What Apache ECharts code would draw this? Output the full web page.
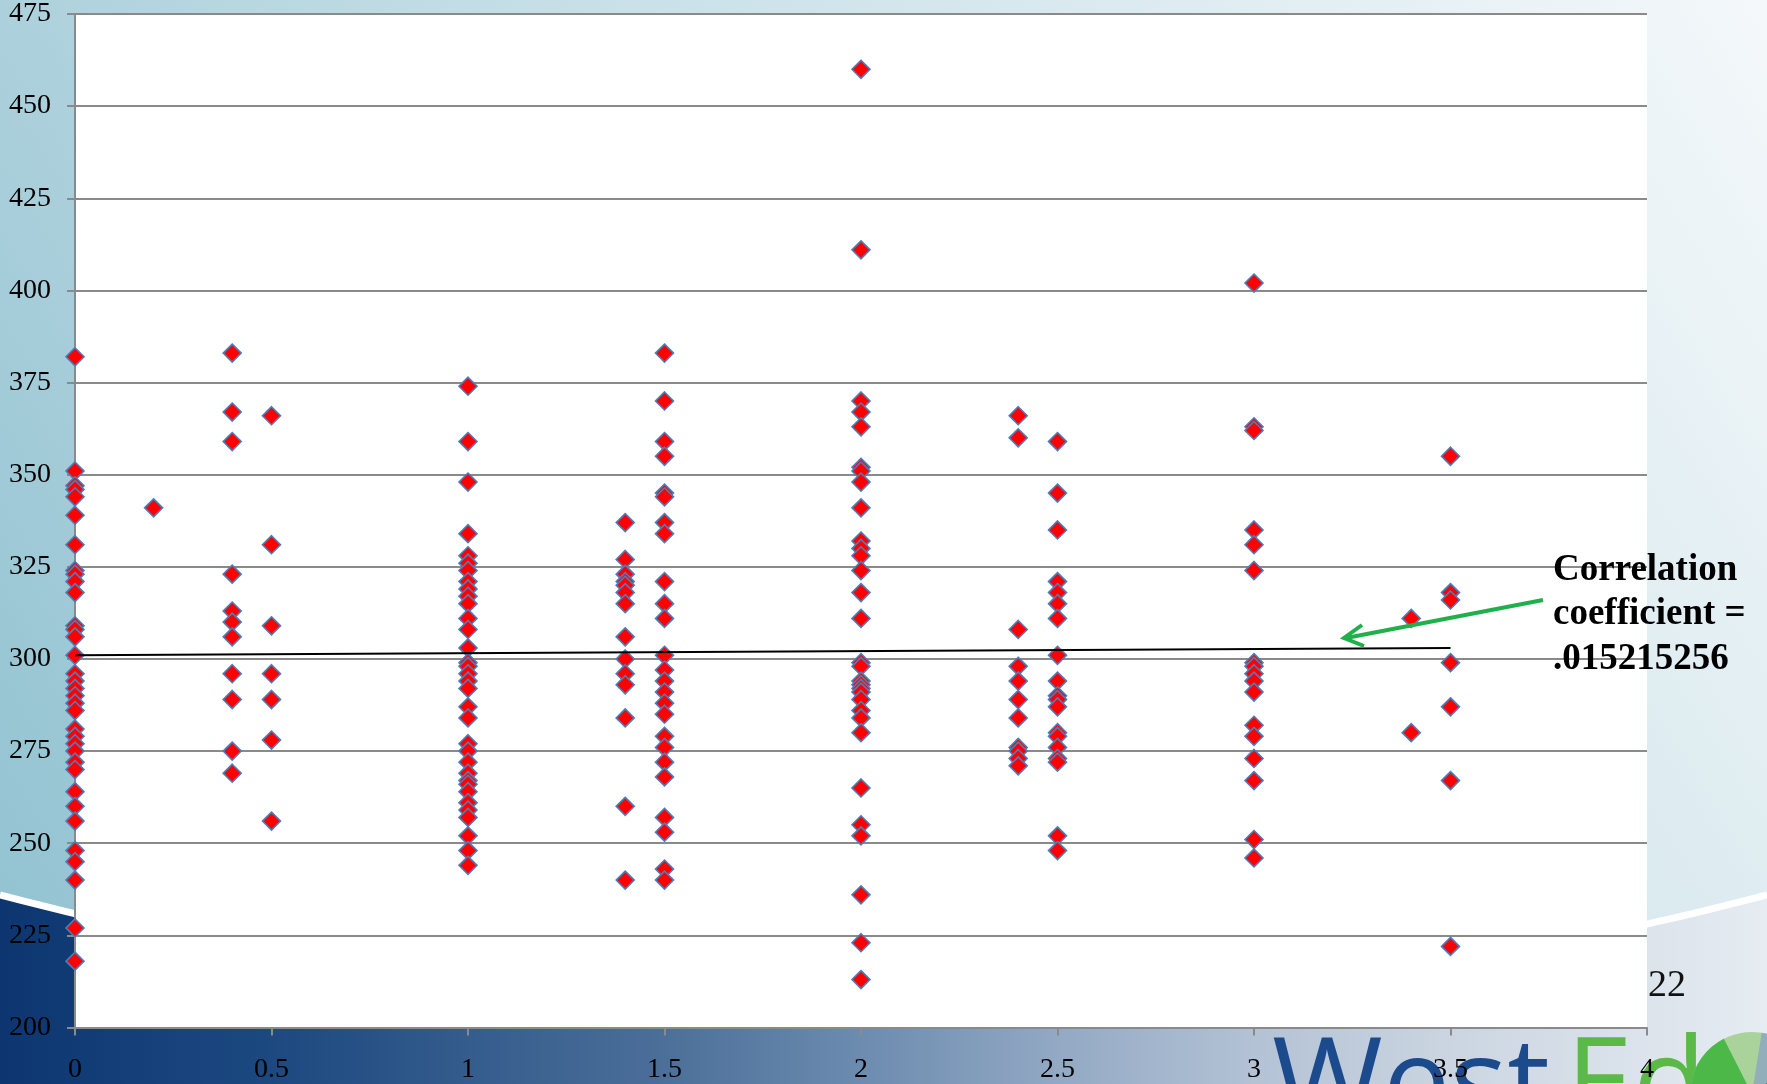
<!DOCTYPE html>
<html>
<head>
<meta charset="utf-8">
<script src="https://cdn.jsdelivr.net/npm/echarts@6/dist/echarts.min.js"></script>
<style>
html,body{margin:0;padding:0;overflow:hidden;background:#fff}
#chart{width:1767px;height:1084px}
</style>
</head>
<body>
<div id="chart"></div>
<script>
// ---- data ----
const xGroups = [0, 0.2, 0.4, 0.5, 1, 1.4, 1.5, 2, 2.4, 2.5, 3, 3.4, 3.5];
const scoresAt0_0 = [382, 351, 347, 346, 344, 339, 331, 324, 323, 321, 318, 309, 308, 306, 301, 296, 294, 292, 290, 288, 286, 281, 279, 277, 275, 272, 270, 264, 260, 256, 248, 245, 240, 227, 218];
const scoresAt0_2 = [341];
const scoresAt0_4 = [383, 367, 359, 323, 313, 310, 306, 296, 289, 275, 269];
const scoresAt0_5 = [366, 331, 309, 296, 289, 278, 256];
const scoresAt1_0 = [374, 359, 348, 334, 328, 326, 324, 321, 319, 317, 315, 311, 308, 303, 299, 298, 296, 294, 292, 287, 284, 277, 275, 272, 269, 267, 266, 264, 261, 259, 257, 252, 248, 244];
const scoresAt1_4 = [337, 327, 323, 321, 320, 318, 315, 306, 300, 296, 293, 284, 260, 240];
const scoresAt1_5 = [383, 370, 359, 355, 345, 344, 337, 334, 321, 315, 311, 301, 297, 294, 291, 288, 285, 279, 276, 272, 268, 257, 253, 243, 240];
const scoresAt2_0 = [460, 411, 370, 367, 363, 352, 351, 348, 341, 332, 330, 328, 324, 318, 311, 299, 298, 294, 293, 292, 291, 289, 286, 284, 280, 265, 255, 252, 236, 223, 213];
const scoresAt2_4 = [366, 360, 308, 298, 294, 289, 284, 276, 275, 273, 271];
const scoresAt2_5 = [359, 345, 335, 321, 318, 315, 311, 301, 294, 290, 289, 287, 280, 279, 276, 273, 272, 252, 248];
const scoresAt3_0 = [402, 363, 362, 335, 331, 324, 299, 298, 296, 294, 291, 282, 279, 273, 267, 251, 246];
const scoresAt3_4 = [311, 280];
const scoresAt3_5 = [355, 318, 316, 299, 287, 267, 222];
const trendX = [0, 3.5];
const trendY = [301.0, 303.0];
const noteLines = ['Correlation', 'coefficient =', '.015215256'];
const pageNumber = '22';
const logoWords = ['West', 'Ed'];

const yGroups = [scoresAt0_0, scoresAt0_2, scoresAt0_4, scoresAt0_5, scoresAt1_0, scoresAt1_4,
  scoresAt1_5, scoresAt2_0, scoresAt2_4, scoresAt2_5, scoresAt3_0, scoresAt3_4, scoresAt3_5];
const points = [];
xGroups.forEach((x, i) => yGroups[i].forEach(v => points.push([x, v])));
const trend = trendX.map((x, i) => [x, trendY[i]]);

// ---- decorative slide background ----
const W = 1767, H = 1084;
function swoosh(n) {
  const p0 = [0, 895], p1 = [883, 1125], p2 = [W, 895];
  const pts = [];
  for (let i = 0; i <= n; i++) {
    const t = i / n, a = (1 - t) * (1 - t), b = 2 * t * (1 - t), c = t * t;
    pts.push([a * p0[0] + b * p1[0] + c * p2[0], a * p0[1] + b * p1[1] + c * p2[1]]);
  }
  return pts;
}
const curve = swoosh(80);
const lowerRegion = curve.concat([[W, H], [0, H]]);

const serif = "'Liberation Serif','Times New Roman',serif";
const gx = 1752, gy = 1094, gr = 62;

const chart = echarts.init(document.getElementById('chart'), null, {renderer: 'canvas'});
chart.setOption({
  animation: false,
  backgroundColor: 'transparent',
  grid: {
    left: 75, top: 14, width: 1572, height: 1013.5,
    show: true, backgroundColor: '#ffffff', borderWidth: 0,
    containLabel: false, outerBoundsMode: 'none'
  },
  xAxis: {
    type: 'value', min: 0, max: 4, interval: 0.5,
    axisLine: {show: true, lineStyle: {color: '#8a8a8a', width: 2}},
    axisTick: {show: true, inside: false, length: 8, lineStyle: {color: '#8a8a8a', width: 2}},
    axisLabel: {color: '#000', fontFamily: serif, fontSize: 28, margin: 28},
    splitLine: {show: false}
  },
  yAxis: {
    type: 'value', min: 200, max: 475, interval: 25,
    axisLine: {show: true, lineStyle: {color: '#8a8a8a', width: 2}},
    axisTick: {show: true, inside: false, length: 8, lineStyle: {color: '#8a8a8a', width: 2}},
    axisLabel: {color: '#000', fontFamily: serif, fontSize: 28, margin: 24},
    splitLine: {show: true, lineStyle: {color: '#8a8a8a', width: 2}}
  },
  series: [
    {
      type: 'scatter', data: points, symbol: 'diamond', symbolSize: 18,
      itemStyle: {color: '#ff0000', borderColor: '#4a7ebb', borderWidth: 1.6, opacity: 1},
      z: 3
    },
    {
      type: 'line', data: trend, symbol: 'none', silent: true,
      lineStyle: {color: '#000', width: 2}, z: 4
    }
  ],
  graphic: [
    {type: 'rect', z: -10, silent: true, shape: {x: 0, y: 0, width: W, height: H},
      style: {fill: {type: 'linear', x: 1, y: 0, x2: 0, y2: 1,
        colorStops: [{offset: 0, color: '#f4f8fa'}, {offset: 0.5, color: '#c6dfe7'}, {offset: 1, color: '#8ec0cf'}]}}},
    {type: 'polygon', z: -9, silent: true, shape: {points: lowerRegion},
      style: {fill: {type: 'linear', x: 0, y: 0, x2: 1, y2: 0,
        colorStops: [{offset: 0, color: '#0d3670'}, {offset: 0.15, color: '#1c4880'}, {offset: 0.37, color: '#4a6e98'},
          {offset: 0.49, color: '#6d8cb0'}, {offset: 0.6, color: '#93a9c4'}, {offset: 0.71, color: '#b3c2d5'},
          {offset: 0.82, color: '#cbd5e1'}, {offset: 1, color: '#e6ecf2'}]}}},
    {type: 'polyline', z: -8, silent: true, shape: {points: curve},
      style: {stroke: '#ffffff', lineWidth: 7, fill: null}},
    // WestEd logo
    {type: 'text', z: -7, silent: true, x: 1272, y: 1030,
      style: {text: logoWords[0], fill: '#1b4b8c', fontFamily: "'Open Sans',sans-serif", fontSize: 120, fontWeight: 500, verticalAlign: 'top', textVerticalAlign: 'top'}},
    {type: 'text', z: -7, silent: true, x: 1566, y: 1030,
      style: {text: logoWords[1], fill: '#5bb947', fontFamily: "'Open Sans',sans-serif", fontSize: 120, fontWeight: 500, verticalAlign: 'top', textVerticalAlign: 'top'}},
    {type: 'circle', z: -7, silent: true, shape: {cx: gx, cy: gy, r: gr}, style: {fill: '#a9d39b'}},
    {type: 'sector', z: -6, silent: true, shape: {cx: gx, cy: gy, r: gr, r0: 0, startAngle: Math.PI * 1.05, endAngle: Math.PI * 1.35}, style: {fill: '#4cb848'}},
    {type: 'sector', z: -6, silent: true, shape: {cx: gx, cy: gy, r: gr, r0: 0, startAngle: Math.PI * 1.55, endAngle: Math.PI * 1.8}, style: {fill: '#93aebb'}},
    {type: 'sector', z: -6, silent: true, shape: {cx: gx, cy: gy, r: gr, r0: 0, startAngle: Math.PI * 1.8, endAngle: Math.PI * 2.1}, style: {fill: '#1d3f73'}},
    // page number
    {type: 'text', z: 20, silent: true, x: 1648, y: 967,
      style: {text: pageNumber, fill: '#111', fontFamily: serif, fontSize: 38, verticalAlign: 'top', textVerticalAlign: 'top'}},
    // annotation
    {type: 'text', z: 20, silent: true, x: 1553, y: 548,
      style: {text: noteLines.join('\n'), fill: '#000', fontFamily: serif, fontSize: 37, fontWeight: 'bold', lineHeight: 44.5, verticalAlign: 'top', textVerticalAlign: 'top'}},
    {type: 'polyline', z: 20, silent: true, shape: {points: [[1543, 600], [1346, 638]]},
      style: {stroke: '#1fb04c', lineWidth: 4, fill: null}},
    {type: 'polyline', z: 20, silent: true, shape: {points: [[1362, 625], [1344, 638], [1364, 646]]},
      style: {stroke: '#1fb04c', lineWidth: 4, fill: null, lineJoin: 'miter'}}
  ]
});
</script>
</body>
</html>
